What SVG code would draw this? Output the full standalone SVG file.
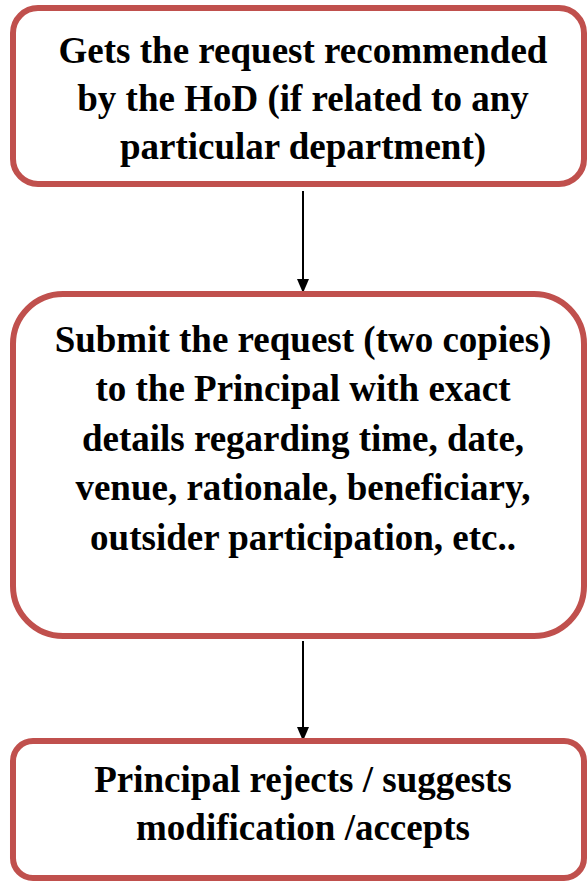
<svg xmlns="http://www.w3.org/2000/svg" width="587" height="882" viewBox="0 0 587 882">
<style>
.box{fill:#fff;stroke:#c0504d;stroke-width:6}
.t{font-family:"Liberation Serif","Times New Roman",serif;font-weight:bold;font-size:37px;fill:#000;text-anchor:middle}
.c{stroke:#000;stroke-width:2;fill:none}
</style>
<defs>
<marker id="ah" markerWidth="14" markerHeight="14" refX="14" refY="7" orient="auto" markerUnits="userSpaceOnUse" viewBox="0 0 14 14">
<path d="M0,1 L14,7 L0,13 z" fill="#000"/>
</marker>
</defs>
<rect width="587" height="882" fill="#fff"/>
<g id="connectors">
<line class="c" x1="303" y1="191" x2="303" y2="293" marker-end="url(#ah)"/>
<line class="c" x1="303" y1="641" x2="303" y2="741" marker-end="url(#ah)"/>
</g>
<g id="node1">
<rect class="box" x="13" y="8" width="571" height="176" rx="25"/>
<text class="t" x="303" y="63">Gets the request recommended</text>
<text class="t" x="303" y="111">by the HoD (if related to any</text>
<text class="t" x="303" y="159">particular department)</text>
</g>
<g id="node2">
<rect class="box" x="13" y="294" width="571" height="342" rx="50"/>
<text class="t" x="303" y="352">Submit the request (two copies)</text>
<text class="t" x="303" y="401">to the Principal with exact</text>
<text class="t" x="303" y="451">details regarding time, date,</text>
<text class="t" x="303" y="500">venue, rationale, beneficiary,</text>
<text class="t" x="303" y="550">outsider participation, etc..</text>
</g>
<g id="node3">
<rect class="box" x="13" y="741" width="571" height="137" rx="20"/>
<text class="t" x="303" y="792">Principal rejects / suggests</text>
<text class="t" x="303" y="840">modification /accepts</text>
</g>
</svg>
